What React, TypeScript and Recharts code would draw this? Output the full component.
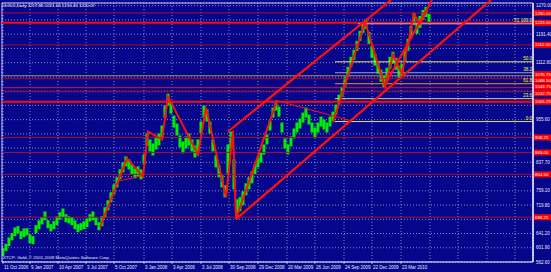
import React from 'react';
import { ComposedChart, Bar, Line, XAxis, YAxis, CartesianGrid, ReferenceLine } from 'recharts';

const BG = '#06068c';
const FONT = '"Liberation Sans", Arial, sans-serif';

// ---- price samples (every 3rd bar) ----
const sampleStart = 1;
const sampleStep = 3;
const highs = [
  601.0, 612.5, 630.0, 642.3, 658.0, 661.5, 647.8, 655.3, 656.0, 638.8, 634.0, 664.3, 677.3, 686.3, 702.0, 678.0, 667.0, 675.3, 688.3, 700.0, 710.3, 694.5, 689.0, 686.3, 677.3, 667.0, 669.8, 675.3, 682.8, 694.5, 702.0, 686.3, 672.5,
  689.0, 713.8, 733.0, 755.0, 777.0, 796.3, 818.3, 837.5, 854.0, 845.8, 832.0, 821.0, 826.5, 818.3, 859.5, 917.3, 900.8, 889.8, 906.3, 917.3, 939.3, 994.3, 1027.3,
  1005.3, 966.8, 944.8, 911.8, 895.3, 909.0, 917.3, 900.8, 884.3, 900.8, 950.3, 994.3, 983.3, 950.3, 900.8, 856.8, 829.3, 801.8, 774.3, 887.0, 922.8, 845.8, 735.8,
  741.3, 757.8, 779.8, 796.3, 812.8, 832.0, 851.3, 865.0, 887.0, 914.5, 953.0, 988.8, 1008.0, 991.5, 947.5, 903.5, 887.0, 909.0, 931.0, 947.5, 958.5, 975.0, 988.8, 969.5, 947.5, 933.8, 947.5, 964.0, 955.8, 947.5, 964.0, 977.8,
  997.0, 1024.5, 1046.5, 1074.0, 1101.5, 1129.0, 1148.3, 1173.0, 1200.5, 1222.5, 1233.5, 1197.8, 1159.3, 1137.3, 1115.3, 1093.3, 1076.8, 1098.8, 1129.0, 1142.8, 1126.3, 1104.3, 1109.8, 1148.3, 1178.5, 1214.0, 1250.0, 1225.3, 1241.8, 1258.3, 1266.5, 1247.3,
];
const lows = [
  579.0, 592.8, 606.5, 622.3, 634.0, 641.5, 625.8, 631.3, 636.0, 614.8, 612.0, 642.3, 653.3, 666.3, 678.0, 656.0, 647.0, 653.3, 664.3, 680.0, 686.3, 672.5, 669.0, 664.3, 653.3, 645.0, 649.8, 653.3, 658.8, 674.5, 678.0, 664.3, 650.5,
  661.5, 686.3, 705.5, 727.5, 749.5, 768.8, 790.8, 810.0, 826.5, 818.3, 804.5, 793.5, 799.0, 790.8, 832.0, 884.3, 867.8, 856.8, 873.3, 884.3, 906.3, 961.3, 994.3,
  972.3, 933.8, 911.8, 878.8, 862.3, 876.0, 884.3, 867.8, 851.3, 867.8, 917.3, 961.3, 950.3, 917.3, 867.8, 823.8, 796.3, 768.8, 741.3, 804.5, 873.3, 763.3, 680.8,
  702.8, 719.3, 746.8, 763.3, 779.8, 804.5, 823.8, 837.5, 859.5, 887.0, 925.5, 961.3, 980.5, 964.0, 920.0, 876.0, 859.5, 881.5, 903.5, 920.0, 931.0, 947.5, 961.3, 942.0, 920.0, 906.3, 920.0, 936.5, 928.3, 920.0, 936.5, 950.3,
  969.5, 997.0, 1019.0, 1046.5, 1074.0, 1101.5, 1120.8, 1145.5, 1173.0, 1195.0, 1206.0, 1164.8, 1126.3, 1104.3, 1082.3, 1060.3, 1043.8, 1065.8, 1096.0, 1109.8, 1093.3, 1071.3, 1076.8, 1115.3, 1145.5, 1181.0, 1217.0, 1192.3, 1208.8, 1230.8, 1239.0, 1225.3,
];
const candles = highs.map((h, i) => ({ t: sampleStart + sampleStep * i, range: [lows[i], h] }));

// ---- zigzag / trend lines (bar, price) ----
const zigA = [
  { t: 98, p: 658.8 }, { t: 125, p: 848.5 }, { t: 141, p: 799.0 }, { t: 146, p: 922.8 },
  { t: 160, p: 900.8 }, { t: 166, p: 1019.0 }, { t: 196, p: 859.5 }, { t: 204, p: 988.8 },
  { t: 224, p: 741.3 }, { t: 231, p: 925.5 }, { t: 234, p: 680.8 }, { t: 275, p: 1008.0 },
];
const zigB = [
  { t: 331, p: 947.5 }, { t: 363, p: 1225.3 }, { t: 383, p: 1046.5 }, { t: 391, p: 1134.5 },
  { t: 400, p: 1082.3 }, { t: 412, p: 1247.3 }, { t: 418, p: 1219.8 }, { t: 425, p: 1258.3 },
];
const thickTrends = [
  [{ x: 226, y: 922.8 }, { x: 389, y: 1285.75 }],
  [{ x: 234, y: 680.8 }, { x: 489, y: 1285.75 }],
  [{ x: 383, y: 1052.0 }, { x: 430, y: 1285.75 }],
];
const thinTrends = [
  [{ x: 116, y: 785.3 }, { x: 141, y: 801.8 }],
  [{ x: 275, y: 1008.0 }, { x: 348, y: 953.0 }],
  [{ x: 234, y: 680.8 }, { x: 348, y: 953.0 }],
];

// ---- horizontal levels ----
const levelPrices = [1250.0, 1223.0, 1162.0, 1076.75, 1068.5, 1043.75, 1032.75, 1005.25, 906.25, 865.0, 804.5, 686.25];
const levelKinds = ['maroon', 'red', 'maroon', 'olive', 'maroon', 'red1', 'maroon', 'red', 'maroon', 'maroon', 'maroon', 'maroon'];
const fibStart = 333;
const fibEnd = 531;
const fibPrices = [1115.25, 1085.0, 1054.75, 1013.5, 950.25];
const fibTags = ['50.0', '38.2', '61.8', '23.6', '0.0'];
const fibKinds = ['yellow', 'lavender', 'orange', 'paleyellow', 'yellow'];
const bidStart = 356;
const bidPrice = 1220.07;
const bidTag = 'TC 100.0';

// ---- axes ----
const dateTicks = [1, 28, 56, 84, 112, 142, 170, 199, 227, 256, 285, 313, 342, 370, 399, 428, 456, 485, 513];
const dateLabels = ['11 Oct 2006', '9 Jan 2007', '10 Apr 2007', '3 Jul 2007', '5 Oct 2007', '3 Jan 2008', '3 Apr 2008', '3 Jul 2008', '30 Sep 2008', '29 Dec 2008', '20 Mar 2009', '26 Jun 2009', '24 Sep 2009', '22 Dec 2009', '23 Mar 2010', '', '', '', ''];
const priceTicks = [1270.0, 1230.7, 1191.4, 1152.1, 1112.8, 1073.5, 1034.2, 994.9, 955.6, 916.3, 877.0, 837.7, 798.4, 759.1, 719.8, 680.5, 641.2, 601.9, 562.6];
const priceDomain = [562.6, 1277.5];
const barDomain = [0, 531];

const titleText = 'GOLD,Daily  1217.85 1221.00 1216.45 1220.07';
const copyText = 'XTCP: Gold, \u00A9 2001-2009 MetaQuotes Software Corp.';

const kindStyle: Record<string, { stroke: string; w: number }> = {
  maroon: { stroke: '#a3102e', w: 1 },
  red: { stroke: '#ff0808', w: 2 },
  red1: { stroke: '#e01020', w: 1 },
  olive: { stroke: '#a08a3a', w: 1 },
  yellow: { stroke: '#e8e05a', w: 1 },
  paleyellow: { stroke: '#d8d27a', w: 1 },
  lavender: { stroke: '#9a9ae0', w: 1 },
  orange: { stroke: '#ff9000', w: 1 },
};

function DateTick(props: any) {
  const { x, y, payload } = props;
  const i = dateTicks.indexOf(payload.value);
  const label = i >= 0 ? dateLabels[i] : '';
  return (
    <g>
      {label ? <line x1={x} x2={x} y1={y} y2={y + 2} stroke="#ffffff" strokeWidth={0.6} /> : null}
      {label ? (
        <text x={x + 1} y={y + 7} fontSize={4.5} fill="#e8e8f0" fontFamily={FONT}>{label}</text>
      ) : null}
    </g>
  );
}

function PriceTick(props: any) {
  const { x, y, payload } = props;
  const v = Number(payload.value);
  // the red price boxes of the levels cover the scale labels they sit on
  const hidden = levelPrices.some((p) => Math.abs(p - v) < 16);
  if (hidden) return null;
  return (
    <text x={x + 3} y={y + 1.6} fontSize={4.5} fill="#e8e8f0" fontFamily={FONT}>
      {v.toFixed(2)}
    </text>
  );
}

function RedBox(props: any) {
  const { viewBox, text, dy } = props;
  if (!viewBox) return null;
  const x = viewBox.x + viewBox.width + 1;
  const y = viewBox.y + (dy || 0);
  return (
    <g>
      <rect x={x} y={y - 3} width={18} height={6} fill="#ff0000" />
      <text x={x + 1} y={y + 1.6} fontSize={4.4} fill="#ffffff" fontFamily={FONT}>{text}</text>
    </g>
  );
}

function YellowTag(props: any) {
  const { viewBox, text } = props;
  if (!viewBox) return null;
  const x = viewBox.x + viewBox.width - 1;
  const y = viewBox.y;
  return (
    <text x={x} y={y - 1.5} fontSize={4.5} fill="#ffff40" textAnchor="end" fontFamily={FONT}>{text}</text>
  );
}

function CandleShape(props: any) {
  const { x, y, width, height } = props;
  if (height == null || isNaN(height)) return null;
  const cx = x + width / 2;
  return <rect x={cx - 1.5} y={y} width={3} height={Math.max(1, height)} fill="#00ee00" />;
}

// box offsets for crowded neighbours so their texts do not collide
const boxShift = [0, 0, 0, -1.5, 1.5, -1, 1.5, 0, 0, 0, 0, 0];

export default function App() {
  return (
    <div style={{ position: 'absolute', left: 0, top: 0, width: 551, height: 272, background: BG, overflow: 'hidden' }}>
      <ComposedChart
        width={551}
        height={272}
        data={candles}
        margin={{ top: 3, right: 0, bottom: 0, left: 2 }}
        barCategoryGap={0}
        style={{ background: BG }}
      >
        <CartesianGrid stroke="#a8a8d8" strokeDasharray="1 2" strokeWidth={0.8} />
        <XAxis
          type="number"
          dataKey="t"
          domain={barDomain}
          ticks={dateTicks}
          allowDataOverflow
          height={10}
          tickLine={false}
          tickSize={0}
          tickMargin={0}
          axisLine={{ stroke: '#ffffff', strokeWidth: 1 }}
          tick={<DateTick />}
          interval={0}
        />
        <YAxis
          orientation="right"
          domain={priceDomain}
          ticks={priceTicks}
          allowDataOverflow
          width={18}
          tickLine={false}
          tickSize={0}
          tickMargin={0}
          axisLine={{ stroke: '#ffffff', strokeWidth: 1.5 }}
          tick={<PriceTick />}
          interval={0}
        />
        <ReferenceLine y={priceDomain[1]} stroke="#c8c8f0" strokeWidth={1} />
        <ReferenceLine x={barDomain[0]} stroke="#c8c8f0" strokeWidth={1} />

        {levelPrices.map((p, i) => (
          <ReferenceLine
            key={'lv' + i}
            y={p}
            stroke={kindStyle[levelKinds[i]].stroke}
            strokeWidth={kindStyle[levelKinds[i]].w}
            label={<RedBox text={p.toFixed(2)} dy={boxShift[i]} />}
          />
        ))}
        {fibPrices.map((p, i) => (
          <ReferenceLine
            key={'fb' + i}
            segment={[{ x: fibStart, y: p }, { x: fibEnd, y: p }]}
            stroke={kindStyle[fibKinds[i]].stroke}
            strokeWidth={1}
            label={<YellowTag text={fibTags[i]} />}
          />
        ))}
        <ReferenceLine
          segment={[{ x: bidStart, y: bidPrice }, { x: fibEnd, y: bidPrice }]}
          stroke="#b4b4e8"
          strokeWidth={1}
          label={<YellowTag text={bidTag} />}
        />

        <Bar dataKey="range" fill="#00ee00" barSize={3} shape={<CandleShape />} isAnimationActive={false} />

        {thinTrends.map((s, i) => (
          <ReferenceLine key={'tn' + i} segment={s} stroke="#ff1010" strokeWidth={1} ifOverflow="visible" />
        ))}
        {thickTrends.map((s, i) => (
          <ReferenceLine key={'tk' + i} segment={s} stroke="#ff1010" strokeWidth={2.2} ifOverflow="visible" />
        ))}
        <Line data={zigA} dataKey="p" type="linear" stroke="#ff1010" strokeWidth={2} dot={false} isAnimationActive={false} />
        <Line data={zigB} dataKey="p" type="linear" stroke="#ff1010" strokeWidth={2} dot={false} isAnimationActive={false} />
      </ComposedChart>
      <svg width={551} height={272} style={{ position: 'absolute', left: 0, top: 0, pointerEvents: 'none' }}>
        <text x={3} y={7} fontSize={4.4} fill="#ffffff" fontFamily={FONT}>{titleText}</text>
        <text x={3} y={259} fontSize={4.4} fill="#e8e8f0" fontFamily={FONT}>{copyText}</text>
      </svg>
    </div>
  );
}
